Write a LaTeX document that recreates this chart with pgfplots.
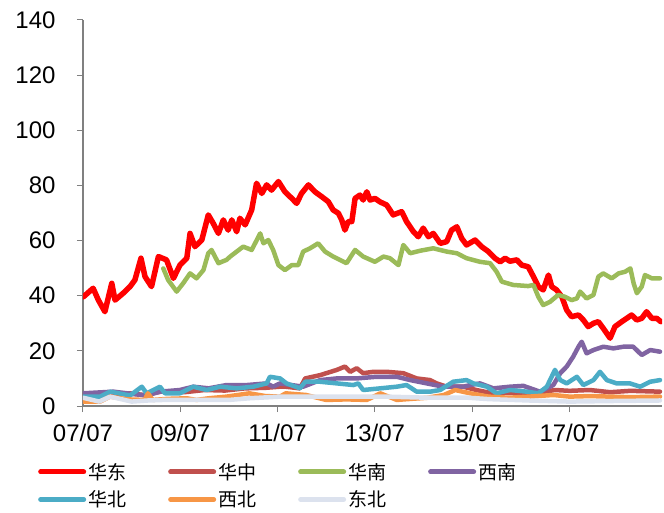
\documentclass[border=0pt]{standalone}
\usepackage{fontspec}
\setmainfont{Liberation Sans}
\newfontfamily\cjk{Noto Sans CJK SC}
\usepackage{pgfplots}
\pgfplotsset{compat=1.18}
\definecolor{cHD}{HTML}{FF0000}
\definecolor{cHZ}{HTML}{C0504D}
\definecolor{cHN}{HTML}{9BBB59}
\definecolor{cXN}{HTML}{8064A2}
\definecolor{cHB}{HTML}{4BACC6}
\definecolor{cXB}{HTML}{F79646}
\definecolor{cDB}{HTML}{DCE2EE}
\begin{document}
\begin{tikzpicture}
\begin{axis}[
  scale only axis, width=579bp, height=386bp, at={(0,0)}, anchor=south west,
  xmin=0, xmax=142.8, ymin=0, ymax=140,
  axis x line*=bottom, axis y line*=left,
  axis line style={draw=gray, line width=1.2bp},
  tick style={draw=gray, line width=1bp},
  major tick length=6bp, tick align=outside,
  xtick={0,24,48,72,96,120},
  xticklabels={07/07,09/07,11/07,13/07,15/07,17/07},
  ytick={0,20,...,140},
  tick label style={font=\fontsize{24bp}{28bp}\selectfont},
  /pgf/number format/assume math mode=true,
  yticklabel style={xshift=-18bp},
  xticklabel style={yshift=-9bp},
  every axis plot/.append style={line join=round, line cap=round},
  legend style={draw=none, fill=none, at={(0,0)}, anchor=north west,
    xshift=-48bp, yshift=-53bp, legend columns=4, row sep=6bp,
    font=\cjk\fontsize{19bp}{22bp}\selectfont,
    /tikz/every even column/.append style={column sep=40bp}},
  legend cell align=left,
  legend image code/.code={\draw[#1,line width=5bp] (0bp,0bp) -- (43bp,0bp);},
]
\addplot[cHD, line width=5.5bp] coordinates {
(0.1,39.6)(2.5,42.7)(3.8,38.4)(5.4,34.2)(7.1,44.5)(7.9,38.4)(9.9,40.9)(11.6,43.3)(12.8,45.7)(14.3,53.6)(15.3,46.9)(16.9,43.3)(18.6,54.2)(20.6,53)(22.3,46.3)(23.9,51.1)(25.6,53.6)(26.4,62.6)(27.6,57.8)(29.3,60.2)(30.9,69.3)(32.1,66.3)(33.4,62.6)(34.6,67.5)(35.8,63.8)(36.7,67.5)(37.9,63.2)(38.7,68.1)(40.0,65.7)(41.6,71.1)(42.8,80.8)(44.1,77.1)(45.3,80.2)(46.5,78.3)(48.2,81.4)(49.8,77.7)(51.5,75.3)(52.7,73.5)(53.9,77.1)(55.6,80.2)(57.2,77.7)(58.9,75.9)(60.5,74.1)(61.7,71.1)(63.0,69.9)(63.8,67.5)(64.6,63.8)(65.4,66.9)(66.3,66.9)(67.1,75.3)(68.3,76.5)(69.1,74.7)(70.0,77.7)(70.8,74.7)(72.0,75.3)(73.3,74.0)(74.9,72.9)(76.5,69.3)(78.6,70.5)(79.8,66.9)(81.5,63.2)(82.7,61.4)(83.9,64.5)(85.2,61.4)(86.4,62.6)(88.1,59.0)(89.7,59.6)(90.9,63.8)(92.2,65.0)(93.4,60.8)(94.6,58.4)(96.7,60.2)(98.3,57.8)(100.0,56.0)(101.6,53.6)(102.9,52.3)(104.1,53.6)(105.3,52.5)(107.0,53.0)(108.2,51.1)(109.8,50.5)(111.1,46.9)(112.3,43.3)(113.5,42.1)(114.8,47.5)(115.6,43.3)(116.8,42.1)(118.1,39.6)(119.3,34.8)(120.5,32.4)(122.2,33.0)(123.4,31.2)(124.6,28.8)(125.9,30.0)(127.1,30.6)(128.3,28.2)(130.0,24.6)(131.2,28.8)(132.9,30.6)(134.1,31.8)(135.3,33.0)(136.6,31.2)(137.8,31.8)(139.0,34.2)(140.3,31.8)(141.5,31.8)(142.5,30.6)
};
\addlegendentry{华东}
\addplot[cHZ, line width=4.5bp] coordinates {
(0,4.0)(5,3.8)(11.6,4.6)(15,4.0)(19.2,5.2)(25,5.0)(30,5.8)(35,5.6)(40,6.4)(45,6.6)(48.6,7.0)(50,7.0)(53.5,6.4)(54.8,10.0)(58.5,11.2)(62.6,13.1)(64.6,14.3)(65.9,12.4)(67.5,13.7)(69.1,11.9)(71.6,12.4)(74.9,12.4)(79.0,11.9)(82.3,10.0)(85.6,9.4)(87.2,8.2)(89.7,7.0)(93.8,7.0)(97,5.8)(101,4.6)(105,4.8)(110,4.6)(113,5.0)(116.4,5.8)(120,5.5)(125,5.8)(130,5.0)(135,5.5)(142.3,5.2)
};
\addlegendentry{华中}
\addplot[cHN, line width=4.5bp] coordinates {
(19.8,49.9)(21.0,45.7)(23.1,41.5)(24.7,44.5)(26.4,48.1)(28.0,46.3)(29.7,49.3)(30.9,55.4)(31.7,56.6)(33.4,51.8)(35.4,53.0)(36.3,54.2)(37.9,56.0)(39.5,57.8)(41.6,56.6)(43.7,62.6)(44.5,59.0)(45.7,60.2)(46.9,56.6)(48.2,51.1)(49.8,49.3)(51.5,51.1)(53.1,51.1)(54.3,56.0)(56.0,57.2)(58.0,59.0)(59.7,56.0)(61.7,54.2)(65.0,51.8)(67.1,56.6)(69.1,54.2)(72.0,52.3)(74.1,54.2)(75.7,53.6)(77.8,51.1)(79.0,58.4)(80.7,55.4)(83.1,56.3)(86.4,57.2)(89.7,56.0)(92.2,55.4)(94.6,53.6)(97.9,52.3)(100.4,51.8)(102.0,48.7)(103.3,45.1)(106.1,43.9)(109.8,43.5)(111.1,43.9)(112.3,39.6)(113.5,36.6)(115.2,37.8)(117.2,40.3)(118.9,39.6)(120.5,38.4)(121.8,39.0)(122.6,41.5)(124.2,39.0)(125.9,40.3)(127.1,46.9)(128.3,48.1)(130.4,46.3)(132.1,48.1)(133.7,48.7)(135.0,49.9)(135.8,44.5)(136.6,40.9)(137.8,43.3)(138.6,47.5)(140.3,46.3)(142.3,46.3)
};
\addlegendentry{华南}
\addplot[cXN, line width=4.5bp] coordinates {
(0,4.6)(7.5,5.2)(12,4.4)(15.7,3.8)(19,5.2)(23.9,5.8)(27.2,7.0)(31,6.4)(35.4,7.6)(40.4,7.6)(45.3,8.2)(46.9,7.0)(48.6,8.2)(54.3,7.0)(58.5,9.4)(62.6,10.0)(67.5,10.0)(72.4,10.6)(77.4,10.6)(80.7,9.4)(84.8,8.2)(88.9,7.0)(93.8,7.0)(95.5,7.6)(97.9,8.2)(101.2,6.4)(105.3,7.0)(108.6,7.3)(112.7,5.2)(116.0,7.6)(117.7,11.9)(119.3,14.3)(120.9,17.9)(122.2,21.5)(123.0,23.3)(124.2,19.1)(125.9,20.3)(128.3,21.5)(130.8,20.9)(133.3,21.5)(135.7,21.5)(137.8,18.5)(139.9,20.3)(142.3,19.7)
};
\addlegendentry{西南}
\addplot[cHB, line width=4.5bp] coordinates {
(0,3.4)(4.2,3.4)(6.7,5.2)(11.6,3.8)(14.5,7.0)(15.7,4.6)(19,7.0)(20.2,4.6)(23.9,4.6)(27.2,7.0)(30.5,5.8)(33.8,7.0)(37.9,6.4)(42,7.0)(45.3,8.2)(46.1,10.6)(48.6,10.0)(50.2,8.2)(53.5,6.4)(54.8,8.8)(58.5,8.8)(62.6,8.2)(66.7,7.6)(67.9,8.2)(69.1,5.8)(73.3,6.4)(77.4,7.0)(79.8,7.6)(82.3,5.2)(85.6,5.2)(88.1,5.8)(91.3,8.8)(94.6,9.4)(96.3,8.2)(99.6,7.0)(102.0,4.6)(105.3,5.8)(109.4,5.2)(112.3,4.6)(114.4,7.0)(116.4,13.1)(117.7,9.4)(119.3,8.2)(121.8,10.6)(123.4,7.6)(125.9,9.4)(127.5,12.4)(129.2,9.4)(131.6,8.2)(134.9,8.2)(137.4,7.0)(139.9,8.8)(142.3,9.4)
};
\addlegendentry{华北}
\addplot[cXB, line width=4.5bp] coordinates {
(0,1.6)(4.2,1.6)(6.7,3.4)(11,2.4)(15.2,2.2)(16,4.6)(17.2,2.2)(21,2.6)(25.6,2.8)(28,2.2)(31,2.8)(35.4,3.4)(41,4.6)(45,3.6)(48.6,3.4)(50,4.6)(55,4.0)(60,2.2)(65,2.4)(70,2.2)(73.3,4.6)(77.4,2.2)(81,2.6)(85,3.0)(89,4.0)(91.8,5.8)(95.5,4.6)(100,3.4)(105,3.0)(110,3.4)(116,4.0)(120,3.4)(125,3.6)(130,3.4)(135,3.2)(142.3,3.4)
};
\addlegendentry{西北}
\addplot[cDB, line width=4.5bp] coordinates {
(0,3.0)(4,1.6)(6.7,3.4)(12,1.6)(16,2.0)(20,2.2)(28,2.2)(36,2.2)(41,2.8)(48.6,3.4)(55,3.4)(65,3.4)(75,3.4)(85,3.0)(95,3.0)(100,2.5)(110,2.0)(120,1.6)(130,1.8)(142.3,2.0)
};
\addlegendentry{东北}
\end{axis}
\pgfresetboundingbox
\path (-83bp,-107bp) rectangle (581bp,406bp);
\end{tikzpicture}
\end{document}
